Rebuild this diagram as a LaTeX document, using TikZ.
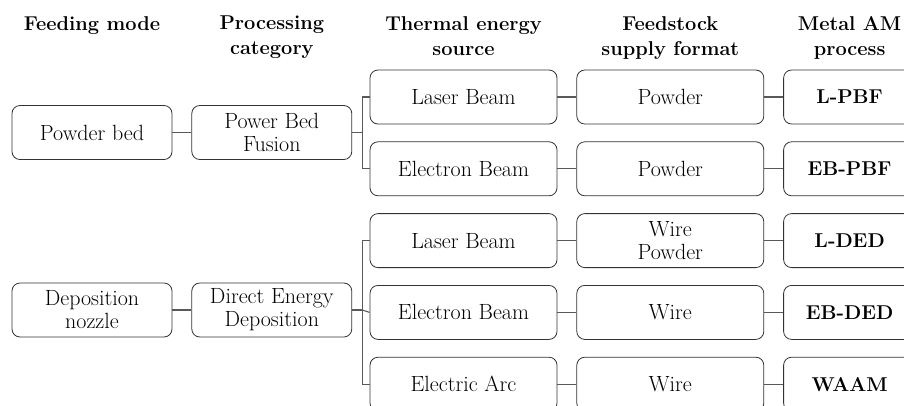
\documentclass[tikz,border=0pt]{standalone}
\usetikzlibrary{positioning}

\begin{document}
\begin{tikzpicture}[
            x=1pt, y=-1pt,
            node distance=17pt and 19pt,
            box/.style={draw=black!80, line width=0.8pt, rounded corners=8pt, minimum height=54pt, align=center, inner sep=2pt, font=\fontsize{22}{23}\selectfont},
            wide/.style={box, minimum width=187pt},
            small/.style={box, minimum width=160pt},
            res/.style={box, minimum width=132pt, font=\fontsize{20}{23}\selectfont\bfseries},
            head/.style={anchor=north, align=center, inner sep=0pt, font=\fontsize{20}{25}\selectfont\bfseries},
            link/.style={draw=black!65, line width=1.1pt}
            ]
            \clip (0,0) rectangle (904,405);
            \coordinate (top) at (0,16);

            % coluna alimentacao / processo
            \node[small] (pbed) at (92,132.5) {Powder bed};
            \node[small, right=of pbed] (pbf) {Power Bed\\Fusion};
            \node[small] (nozzle) at (92,310) {Deposition\\nozzle};
            \node[small, right=of nozzle] (ded) {Direct Energy\\Deposition};

            % coluna fonte de energia
            \node[wide] (lb1) at (463.5,97) {Laser Beam};
            \node[wide, below=of lb1] (eb1) {Electron Beam};
            \node[wide, below=of eb1] (lb2) {Laser Beam};
            \node[wide, below=of lb2] (eb2) {Electron Beam};
            \node[wide, below=of eb2] (arc) {Electric Arc};

            % coluna materia-prima
            \node[wide, right=of lb1] (fs1) {Powder};
            \node[wide, right=of eb1] (fs2) {Powder};
            \node[wide, right=of lb2] (fs3) {Wire\\Powder};
            \node[wide, right=of eb2] (fs4) {Wire};
            \node[wide, right=of arc] (fs5) {Wire};

            % coluna processo AM
            \node[res, right=of fs1] (lpbf) {L-PBF};
            \node[res, right=of fs2] (ebpbf) {EB-PBF};
            \node[res, right=of fs3] (lded) {L-DED};
            \node[res, right=of fs4] (ebded) {EB-DED};
            \node[res, right=of fs5] (waam) {WAAM};

            % títulos
            \node[head] (h1) at (pbed |- top) {Feeding mode};
            \node[head] (h2) at (pbf |- top) {Processing\\category};
            \node[head] (h3) at (lb1 |- top) {Thermal energy\\source};
            \node[head] (h4) at (fs1 |- top) {Feedstock\\supply format};
            \node[head] (h5) at (lpbf |- top) {Metal AM\\process};

            % ligações
            \draw[link] (pbed) -- (pbf);
            \draw[link] (nozzle) -- (ded);
            \draw[link] (pbf.east) -- ++(10,0) coordinate (b1);
            \draw[link] (lb1.west) -| (b1) |- (eb1.west);
            \draw[link] (ded.east) -- ++(10,0) coordinate (b2);
            \draw[link] (lb2.west) -| (b2) |- (arc.west);
            \draw[link] (b2) -- (eb2.west);
            \foreach \a/\b/\c in {lb1/fs1/lpbf, eb1/fs2/ebpbf, lb2/fs3/lded, eb2/fs4/ebded, arc/fs5/waam} {
                \draw[link] (\a) -- (\b);
                \draw[link] (\b) -- (\c);
            }
        \end{tikzpicture}
\end{document}
